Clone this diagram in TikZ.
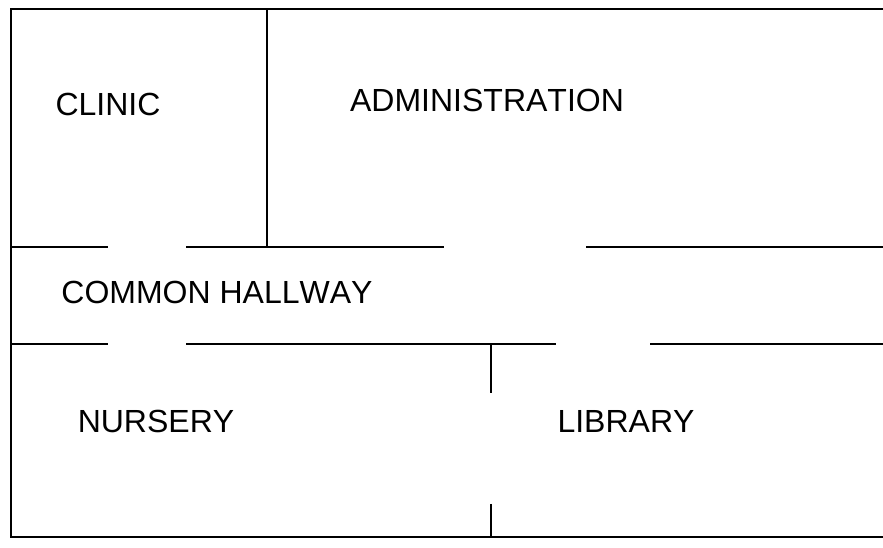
\documentclass[tikz,border=0pt]{standalone}
\usepackage{fontspec}
\setmainfont[Kerning=Off]{Liberation Sans}
\tikzset{every picture/.style={line width=0.9pt}}
\tikzset{roomlabel/.style={inner sep=0.75pt,font=\fontsize{24pt}{28pt}\selectfont}}
\begin{document}
\begin{tikzpicture}[x=0.75pt,y=0.75pt,yscale=-1,xscale=1]
\useasboundingbox (0,0) rectangle (883,548);

%Outer walls
\draw    (883,9) -- (11,9) -- (11,537) -- (883,537) ;
%Clinic wall
\draw    (267,9) -- (267,247) ;
%Upper hallway wall
\draw    (11,247) -- (108,247) ;
\draw    (186,247) -- (444,247) ;
\draw    (586,247) -- (883,247) ;
%Lower hallway wall
\draw    (11,344) -- (108,344) ;
\draw    (186,344) -- (556,344) ;
\draw    (650,344) -- (883,344) ;
%Library wall
\draw    (491,344) -- (491,393) ;
\draw    (491,504) -- (491,537) ;

% Text Node
\draw (108,104) node [roomlabel] (clinic)  {CLINIC};
% Text Node
\draw (487,100) node [roomlabel] (admin)  {ADMINISTRATION};
% Text Node
\draw (217,292) node [roomlabel] (hallway)  {COMMON HALLWAY};
% Text Node
\draw (156,421) node [roomlabel] (nursery)  {NURSERY};
% Text Node
\draw (626,421) node [roomlabel] (library)  {LIBRARY};
\end{tikzpicture}
\end{document}
